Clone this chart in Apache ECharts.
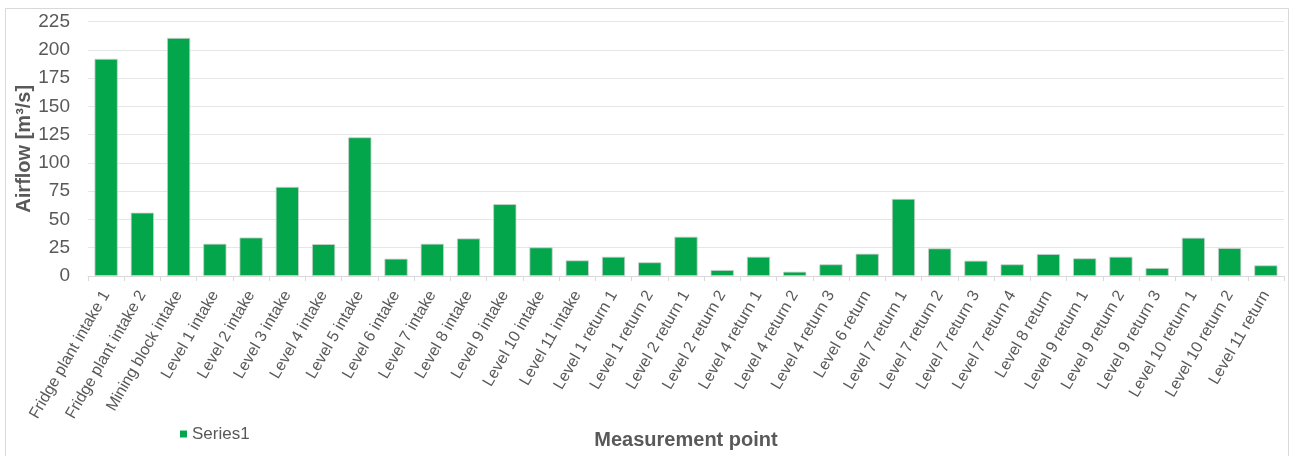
<!DOCTYPE html>
<html>
<head>
<meta charset="utf-8">
<script src="https://cdn.jsdelivr.net/npm/echarts@6/dist/echarts.min.js"></script>
<style>
  html, body { margin: 0; padding: 0; background: #ffffff; }
  #chart { width: 1295px; height: 456px; }
</style>
</head>
<body>
<div id="chart"></div>
<script>
// Measurement points along the ventilation network
const categories = [
  'Fridge plant intake 1', 'Fridge plant intake 2', 'Mining block intake',
  'Level 1 intake', 'Level 2 intake', 'Level 3 intake', 'Level 4 intake',
  'Level 5 intake', 'Level 6 intake', 'Level 7 intake', 'Level 8 intake',
  'Level 9 intake', 'Level 10 intake', 'Level 11 intake',
  'Level 1 return 1', 'Level 1 return 2', 'Level 2 return 1', 'Level 2 return 2',
  'Level 4 return 1', 'Level 4 return 2', 'Level 4 return 3', 'Level 6 return',
  'Level 7 return 1', 'Level 7 return 2', 'Level 7 return 3', 'Level 7 return 4',
  'Level 8 return', 'Level 9 return 1', 'Level 9 return 2', 'Level 9 return 3',
  'Level 10 return 1', 'Level 10 return 2', 'Level 11 return'
];

// Airflow in m³/s
const series1 = [
  192, 56, 210.5,
  28.5, 34, 78.8, 28.2,
  122.6, 15.3, 28.5, 33.2,
  63.5, 25.3, 13.8,
  17, 12.1, 34.7, 5.3,
  17, 3.8, 10.3, 19.7,
  68.2, 24.4, 13.5, 10.3,
  19.4, 15.6, 17, 7.1,
  33.8, 24.7, 9.4
];

const yTicks = { min: 0, max: 225, interval: 25 };

const textGray = '#595959';
const barGreen = '#04a64b';
const font = '"Liberation Sans", Arial, sans-serif';

const chart = echarts.init(document.getElementById('chart'), null, { renderer: 'canvas' });

chart.setOption({
  animation: false,
  backgroundColor: '#ffffff',
  textStyle: { fontFamily: font },
  graphic: [{
    type: 'rect',
    shape: { x: 5.5, y: 8.5, width: 1283, height: 460 },
    style: { fill: 'none', stroke: '#d9d9d9', lineWidth: 1 },
    silent: true
  }],
  legend: {
    data: ['Series1'],
    left: 180,
    top: 425.5,
    padding: 0,
    icon: 'rect',
    itemWidth: 7,
    itemHeight: 7,
    itemStyle: { color: barGreen, borderWidth: 0 },
    textStyle: { color: textGray, fontSize: 17, fontFamily: font }
  },
  grid: { left: 88, right: 11, top: 21.5, bottom: 180, containLabel: false },
  xAxis: {
    type: 'category',
    data: categories,
    name: 'Measurement point',
    nameLocation: 'middle',
    nameGap: 154,
    nameTextStyle: { color: textGray, fontSize: 20, fontWeight: 'bold', fontFamily: font },
    axisLine: { lineStyle: { color: '#d9d9d9', width: 1 } },
    axisTick: { show: true, length: 5, lineStyle: { color: '#d9d9d9' } },
    axisLabel: {
      interval: 0,
      rotate: 60,
      margin: 16,
      color: textGray,
      fontSize: 16,
      fontFamily: font
    }
  },
  yAxis: {
    type: 'value',
    min: yTicks.min,
    max: yTicks.max,
    interval: yTicks.interval,
    name: 'Airflow [m³/s]',
    nameLocation: 'middle',
    nameGap: 54,
    nameRotate: 90,
    nameMoveOverlap: false,
    nameTextStyle: { color: textGray, fontSize: 20, fontWeight: 'bold', fontFamily: font },
    axisLine: { show: false },
    axisTick: { show: false },
    axisLabel: { color: textGray, fontSize: 19, margin: 18, fontFamily: font },
    splitLine: { lineStyle: { color: '#e6e6e6', width: 1 } }
  },
  series: [{
    name: 'Series1',
    type: 'bar',
    data: series1,
    barCategoryGap: '36%',
    itemStyle: { color: barGreen, borderColor: '#cfcfcf', borderWidth: 0.8 }
  }]
});
</script>
</body>
</html>
